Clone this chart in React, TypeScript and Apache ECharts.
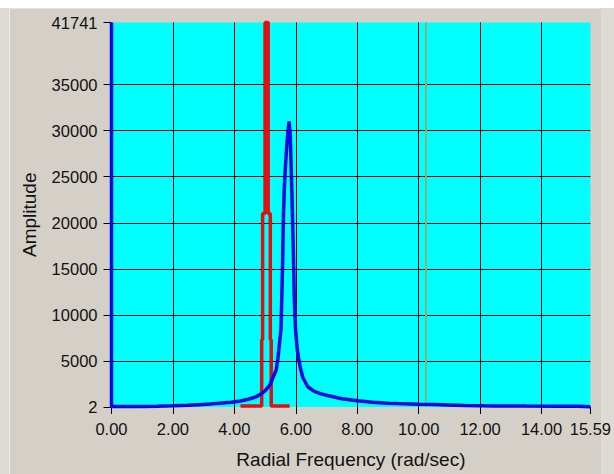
import React, { useEffect, useRef } from 'react';
import * as echarts from 'echarts';

// Axis ranges and tick labels
const xMin = 0;
const xMax = 15.59;
const xInterval = 2;
const yMin = 0;
const yMax = 41741;
const yInterval = 5000;
const yLabelValues = [2, 5000, 10000, 15000, 20000, 25000, 30000, 35000, 41741];

// Blue response spectrum
const blueFreq = [0, 0, 0.5, 1.0, 1.5, 2.0, 2.5, 2.85, 3.2, 3.5, 3.9, 4.2, 4.45, 4.7, 4.88, 5.0, 5.17, 5.26, 5.36, 5.42, 5.52, 5.57, 5.6, 5.63, 5.67, 5.72, 5.78, 5.82, 5.85, 5.89, 5.92, 5.95, 5.99, 6.04, 6.09, 6.15, 6.23, 6.39, 6.6, 6.8, 7.03, 7.5, 8.0, 8.5, 9.0, 9.3, 10.0, 10.5, 10.9, 11.5, 12.5, 13.5, 14.5, 15.2, 15.59];
const blueAmp = [41741, 60, 50, 60, 90, 130, 180, 250, 320, 400, 520, 660, 840, 1100, 1450, 1750, 2450, 3200, 4000, 5300, 8500, 15500, 21000, 24000, 26500, 29000, 31000, 29500, 26000, 21000, 17000, 12000, 8500, 6500, 5300, 4200, 3200, 2200, 1700, 1450, 1250, 900, 680, 520, 420, 370, 300, 260, 220, 160, 120, 100, 90, 80, 30];

// Red excitation spike
const redFreq = [4.2, 4.89, 4.89, 4.92, 4.92, 5.0, 5.0, 5.1, 5.1, 5.17, 5.17, 5.2, 5.2, 5.8];
const redAmp = [100, 100, 7300, 7300, 21000, 21000, 41741, 41741, 21000, 21000, 7300, 7300, 100, 100];

// Green marker line
const greenFreq = [10.24, 10.24];
const greenAmp = [0, 41741];

const zip = (xs: number[], ys: number[]) => xs.map((x, i) => [x, ys[i]]);

const FONT = 'Liberation Sans, Arial, sans-serif';

export default function App() {
  const ref = useRef<HTMLDivElement>(null);
  useEffect(() => {
    const chart = echarts.init(ref.current!, null, { renderer: 'svg' });
    chart.setOption({
      animation: false,
      backgroundColor: 'transparent',
      grid: {
        left: 111.5,
        top: 22.5,
        right: 17.3,
        bottom: 63,
        show: true,
        backgroundColor: '#00ffff',
        borderWidth: 0,
        containLabel: false,
      },
      xAxis: {
        type: 'value',
        min: xMin,
        max: xMax,
        interval: xInterval,
        offset: 3,
        axisLine: { show: false },
        axisTick: { show: true, length: 7, lineStyle: { color: '#000', width: 1 } },
        axisLabel: {
          formatter: (v: number) => v.toFixed(2),
          color: '#111',
          fontFamily: FONT,
          fontSize: 16.5,
          margin: 10,
          showMinLabel: true,
          showMaxLabel: true,
        },
        splitLine: { show: true, showMinLine: false, showMaxLine: false, lineStyle: { color: '#000', width: 1 } },
        name: 'Radial Frequency (rad/sec)',
        nameLocation: 'middle',
        nameGap: 40,
        nameTextStyle: { color: '#111', fontFamily: FONT, fontSize: 19 },
      },
      yAxis: {
        type: 'value',
        min: yMin,
        max: yMax,
        interval: yInterval,
        offset: 3,
        axisLine: { show: false },
        axisTick: { show: true, length: 8, customValues: yLabelValues, lineStyle: { color: '#000', width: 1 } },
        axisLabel: {
          customValues: yLabelValues,
          formatter: (v: number) => String(v),
          color: '#111',
          fontFamily: FONT,
          fontSize: 16.5,
          margin: 11,
        },
        splitLine: { show: true, showMinLine: false, showMaxLine: false, lineStyle: { color: '#000', width: 1 } },
        name: 'Amplitude',
        nameLocation: 'middle',
        nameGap: 70,
        nameTextStyle: { color: '#111', fontFamily: FONT, fontSize: 19 },
      },
      series: [
        {
          type: 'line',
          data: zip(greenFreq, greenAmp),
          showSymbol: false,
          lineStyle: { color: '#8fb26a', width: 2 },
          clip: false,
          z: 2,
        },
        {
          type: 'line',
          data: zip(redFreq, redAmp),
          showSymbol: false,
          lineStyle: { color: '#e01010', width: 3.5 },
          clip: false,
          z: 3,
        },
        {
          type: 'line',
          data: zip(blueFreq, blueAmp),
          showSymbol: false,
          lineStyle: { color: '#0a0ae0', width: 3.5 },
          clip: false,
          z: 4,
        },
      ],
    });
    return () => chart.dispose();
  }, []);
  return (
    <div style={{ position: 'fixed', left: 0, top: 0, width: 614, height: 474, background: '#ffffff', overflow: 'hidden' }}>
      <div style={{ position: 'absolute', left: 0, top: 8, width: 614, height: 466, background: '#dedbd5' }} />
      <div style={{ position: 'absolute', left: 9, top: 8, width: 592, height: 466, background: '#d4d0c8', borderLeft: '1px solid #eceae5', borderTop: '1px solid #e6e3de', boxSizing: 'border-box' }} />
      <div ref={ref} style={{ position: 'absolute', left: 0, top: 0, width: 614, height: 474 }} />
    </div>
  );
}
